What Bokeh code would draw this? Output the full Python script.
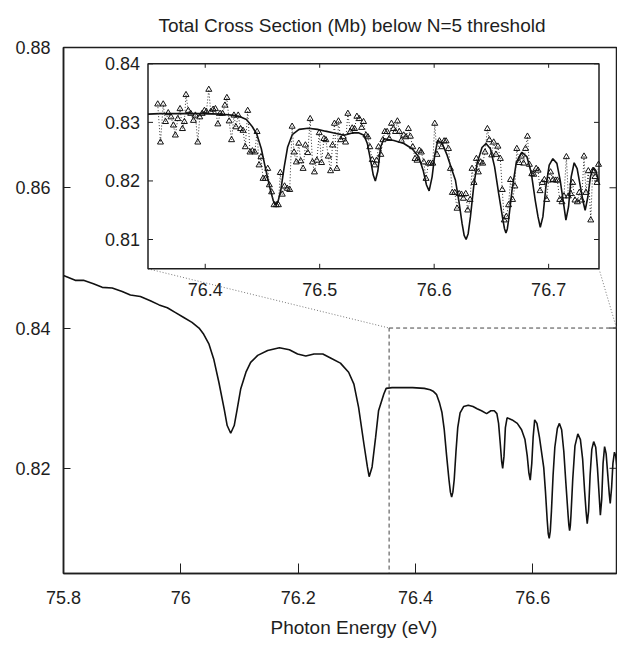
import numpy as np
from bokeh.plotting import figure
from bokeh.models import Range1d, FixedTicker, Title
from bokeh.core.properties import value
from bokeh.embed import file_html
from bokeh.resources import INLINE

# ---------------- data ----------------
TITLE = "Total Cross Section (Mb) below N=5 threshold"
X_LABEL = "Photon Energy (eV)"

MAIN_X_RANGE = (75.8, 76.7426)
MAIN_Y_RANGE = (0.805, 0.88)
MAIN_X_TICKS = [75.8, 76.0, 76.2, 76.4, 76.6]
MAIN_X_TICK_LABELS = ["75.8", "76", "76.2", "76.4", "76.6"]
MAIN_Y_TICKS = [0.82, 0.84, 0.86, 0.88]
MAIN_Y_TICK_LABELS = ["0.82", "0.84", "0.86", "0.88"]

ZOOM_BOX_X = (76.355, 76.745)
ZOOM_BOX_Y = (0.805, 0.84)

INSET_X_RANGE = (76.35, 76.744)
INSET_Y_RANGE = (0.805, 0.84)
INSET_X_TICKS = [76.4, 76.5, 76.6, 76.7]
INSET_X_TICK_LABELS = ["76.4", "76.5", "76.6", "76.7"]
INSET_Y_TICKS = [0.81, 0.82, 0.83, 0.84]
INSET_Y_TICK_LABELS = ["0.81", "0.82", "0.83", "0.84"]

# theoretical total cross section (solid curve)
theory_energy = [
    75.800, 75.820, 75.834, 75.851, 75.866, 75.883, 75.900, 75.914, 75.931, 75.948,
    75.963, 75.977, 75.991, 76.005, 76.019, 76.031, 76.039, 76.048, 76.056, 76.065,
    76.074, 76.079, 76.085, 76.091, 76.096, 76.102, 76.111, 76.119, 76.131, 76.148,
    76.168, 76.185, 76.199, 76.213, 76.227, 76.242, 76.256, 76.272, 76.286, 76.295,
    76.303, 76.312, 76.318, 76.321, 76.326, 76.332, 76.337, 76.346,
    76.350, 76.360, 76.375, 76.395, 76.415, 76.425, 76.430, 76.436, 76.441, 76.445,
    76.449, 76.453, 76.457, 76.4595, 76.4616, 76.4637, 76.466, 76.469, 76.472, 76.476,
    76.482, 76.490, 76.498, 76.505, 76.5125, 76.5212, 76.5285, 76.5343, 76.5387, 76.5416,
    76.5445, 76.5468, 76.5486, 76.5508, 76.5532, 76.5561, 76.5648, 76.5735, 76.5808, 76.5866,
    76.5904, 76.5933, 76.5956, 76.5982, 76.6005, 76.6031, 76.6070, 76.6113, 76.6157, 76.6186,
    76.6215, 76.6244, 76.6262, 76.6279, 76.6297, 76.6317, 76.6345, 76.6375, 76.6418, 76.6453,
    76.6491, 76.6528, 76.6563, 76.6601, 76.6614, 76.6627, 76.6639, 76.6650, 76.6680, 76.6718,
    76.6767, 76.6811, 76.6849, 76.6883, 76.6907, 76.6927, 76.6950, 76.6976, 76.7005, 76.7037,
    76.7072, 76.7101, 76.7130, 76.7151, 76.7174, 76.7197, 76.7223, 76.7249, 76.7278, 76.7302,
    76.7319, 76.7343, 76.7365, 76.7391, 76.7412, 76.7435,
]
theory_sigma = [
    0.8475, 0.8468, 0.8468, 0.8463, 0.8458, 0.8457, 0.8452, 0.8447, 0.8445, 0.8439,
    0.8433, 0.8429, 0.8422, 0.8415, 0.8408, 0.8400, 0.8391, 0.8377, 0.8356, 0.8322,
    0.8284, 0.8261, 0.8250, 0.8261, 0.8284, 0.8313, 0.8337, 0.8351, 0.8361, 0.8368,
    0.8372, 0.8369, 0.8363, 0.8360, 0.8363, 0.8363, 0.8357, 0.8350, 0.8337, 0.8320,
    0.8287, 0.8235, 0.8202, 0.8188, 0.8202, 0.8244, 0.8282, 0.8306,
    0.8314, 0.8315, 0.8315, 0.8315, 0.8314, 0.8312, 0.8310, 0.8305, 0.8293, 0.8280,
    0.8255, 0.8218, 0.8184, 0.8166, 0.8159, 0.8166, 0.8184, 0.8224, 0.8258, 0.8279,
    0.8288, 0.8290, 0.8288, 0.8285, 0.8282, 0.8278, 0.8282, 0.8282, 0.8278, 0.8264,
    0.8235, 0.8210, 0.8200, 0.8217, 0.8258, 0.8272, 0.8269, 0.8264, 0.8255, 0.8241,
    0.8218, 0.8193, 0.8183, 0.8207, 0.8244, 0.8269, 0.8264, 0.8244, 0.8218, 0.8201,
    0.8167, 0.8127, 0.8107, 0.8100, 0.8110, 0.8139, 0.8190, 0.8230, 0.8257, 0.8264,
    0.8255, 0.8224, 0.8179, 0.8133, 0.8119, 0.8111, 0.8118, 0.8133, 0.8184, 0.8232,
    0.8249, 0.8241, 0.8213, 0.8167, 0.8139, 0.8121, 0.8139, 0.8190, 0.8227, 0.8238,
    0.8230, 0.8201, 0.8162, 0.8133, 0.8156, 0.8207, 0.8231, 0.8221, 0.8190, 0.8164,
    0.8150, 0.8173, 0.8207, 0.8223, 0.8218, 0.8201,
]

# experimental points (triangles, dotted)
exp_energy = [
    76.3585, 76.3609, 76.3633, 76.3653, 76.3677, 76.3701, 76.3722, 76.3739, 76.3760, 76.3780,
    76.3801, 76.3818, 76.3832, 76.3852, 76.3873, 76.3897, 76.3914, 76.3935, 76.3952, 76.3973,
    76.3993, 76.4010, 76.4031, 76.4048, 76.4069, 76.4089, 76.4110, 76.4130, 76.4151, 76.4172,
    76.4189, 76.4209, 76.4230, 76.4251, 76.4268, 76.4288, 76.4309, 76.4330, 76.4350, 76.4371,
    76.4391, 76.4412, 76.4433, 76.4453, 76.4470, 76.4487, 76.4505, 76.4525, 76.4546, 76.4560,
    76.4580, 76.4601, 76.4621, 76.4639, 76.4656, 76.4673, 76.4693, 76.4717, 76.4738, 76.4759,
    76.4776, 76.4796, 76.4817, 76.4834, 76.4855, 76.4875, 76.4896, 76.4917, 76.4937, 76.4954,
    76.4975, 76.4996, 76.5016, 76.5037, 76.5054, 76.5075, 76.5095, 76.5112, 76.5129, 76.5150,
    76.5164, 76.5184, 76.5205, 76.5226, 76.5246, 76.5267, 76.5284, 76.5304, 76.5325, 76.5346,
    76.5366, 76.5383, 76.5404, 76.5421, 76.5438, 76.5459, 76.5480, 76.5497, 76.5514, 76.5534,
    76.5552, 76.5569, 76.5589, 76.5607, 76.5627, 76.5644, 76.5662, 76.5679, 76.5696, 76.5713,
    76.5734, 76.5754, 76.5775, 76.5792, 76.5813, 76.5833, 76.5850, 76.5871, 76.5888, 76.5909,
    76.5929, 76.5950, 76.5967, 76.5988, 76.6005, 76.6025, 76.6046, 76.6067, 76.6087, 76.6104,
    76.6125, 76.6142, 76.6159, 76.6180, 76.6200, 76.6218, 76.6238, 76.6255, 76.6276, 76.6293,
    76.6314, 76.6331, 76.6348, 76.6369, 76.6386, 76.6406, 76.6424, 76.6444, 76.6465, 76.6482,
    76.6503, 76.6520, 76.6540, 76.6557, 76.6578, 76.6595, 76.6612, 76.6630, 76.6650, 76.6667,
    76.6685, 76.6705, 76.6722, 76.6743, 76.6760, 76.6781, 76.6798, 76.6815, 76.6832, 76.6853,
    76.6870, 76.6891, 76.6908, 76.6925, 76.6945, 76.6963, 76.6983, 76.7000, 76.7017, 76.7038,
    76.7059, 76.7076, 76.7097, 76.7117, 76.7134, 76.7155, 76.7172, 76.7193, 76.7210, 76.7230,
    76.7251, 76.7268, 76.7289, 76.7309, 76.7326, 76.7347, 76.7368, 76.7385, 76.7405, 76.7423,
    76.7436,
]
exp_sigma = [
    0.8331, 0.8266, 0.8331, 0.8301, 0.8316, 0.8309, 0.8295, 0.8278, 0.8306, 0.8323,
    0.8289, 0.8301, 0.8347, 0.8320, 0.8315, 0.8303, 0.8312, 0.8266, 0.8309, 0.8315,
    0.8320, 0.8318, 0.8356, 0.8318, 0.8322, 0.8323, 0.8297, 0.8315, 0.8315, 0.8329,
    0.8342, 0.8302, 0.8270, 0.8312, 0.8292, 0.8312, 0.8289, 0.8286, 0.8258, 0.8320,
    0.8249, 0.8251, 0.8249, 0.8284, 0.8227, 0.8241, 0.8204, 0.8204, 0.8221, 0.8193,
    0.8181, 0.8159, 0.8159, 0.8159, 0.8214, 0.8177, 0.8191, 0.8187, 0.8185, 0.8293,
    0.8249, 0.8232, 0.8264, 0.8234, 0.8221, 0.8261, 0.8248, 0.8306, 0.8232, 0.8215,
    0.8235, 0.8282, 0.8231, 0.8272, 0.8270, 0.8242, 0.8217, 0.8261, 0.8298, 0.8221,
    0.8302, 0.8270, 0.8275, 0.8266, 0.8315, 0.8284, 0.8290, 0.8289, 0.8310, 0.8306,
    0.8291, 0.8301, 0.8278, 0.8275, 0.8258, 0.8236, 0.8227, 0.8235, 0.8258, 0.8245,
    0.8270, 0.8284, 0.8284, 0.8272, 0.8298, 0.8289, 0.8284, 0.8302, 0.8284, 0.8269,
    0.8278, 0.8275, 0.8289, 0.8276, 0.8258, 0.8238, 0.8235, 0.8252, 0.8249, 0.8232,
    0.8204, 0.8230, 0.8230, 0.8230, 0.8298, 0.8245, 0.8268, 0.8258, 0.8268, 0.8268,
    0.8255, 0.8221, 0.8180, 0.8180, 0.8153, 0.8178, 0.8177, 0.8170, 0.8178, 0.8150,
    0.8168, 0.8221, 0.8197, 0.8238, 0.8215, 0.8232, 0.8230, 0.8249, 0.8289, 0.8270,
    0.8244, 0.8266, 0.8245, 0.8259, 0.8238, 0.8185, 0.8133, 0.8139, 0.8159, 0.8202,
    0.8168, 0.8191, 0.8255, 0.8231, 0.8242, 0.8230, 0.8255, 0.8276, 0.8228, 0.8212,
    0.8211, 0.8221, 0.8218, 0.8183, 0.8197, 0.8202, 0.8168, 0.8201, 0.8215, 0.8202,
    0.8201, 0.8201, 0.8168, 0.8164, 0.8174, 0.8241, 0.8174, 0.8178, 0.8197, 0.8167,
    0.8164, 0.8180, 0.8167, 0.8242, 0.8180, 0.8217, 0.8133, 0.8217, 0.8207, 0.8197,
    0.8228,
]

# ---------------- layout (pixels) ----------------
W, H = 617, 646
FL, FR, FT, FB = 63, 616, 47, 573          # main frame edges
IL, IR, IT, IB = 147.5, 598.5, 63.3, 268.3 # inset frame edges
TITLE_OFFSET = 95     # left edge of title text relative to frame left
XLAB_OFFSET = 207     # left edge of x-label text relative to frame left
FONT = "Liberation Sans"
FS = "18px"
FS_TITLE = "19px"
INK = "#1e1e1e"

mx = (MAIN_X_RANGE[1] - MAIN_X_RANGE[0]) / (FR - FL)
my = (MAIN_Y_RANGE[1] - MAIN_Y_RANGE[0]) / (FB - FT)


def main_x(px):
    return MAIN_X_RANGE[0] + (px - FL) * mx


def main_y(py):
    return MAIN_Y_RANGE[1] - (py - FT) * my


isx = (INSET_X_RANGE[1] - INSET_X_RANGE[0]) / (IR - IL)
isy = (INSET_Y_RANGE[1] - INSET_Y_RANGE[0]) / (IB - IT)
inset_xr = Range1d(INSET_X_RANGE[0] - (IL - FL) * isx, INSET_X_RANGE[1] + (FR - IR) * isx)
inset_yr = Range1d(INSET_Y_RANGE[0] - (FB - IB) * isy, INSET_Y_RANGE[1] + (IT - FT) * isy)

p = figure(width=W, height=H,
           x_range=Range1d(*MAIN_X_RANGE), y_range=Range1d(*MAIN_Y_RANGE),
           output_backend="svg", toolbar_location=None,
           min_border_left=FL, min_border_right=W - FR,
           min_border_top=FT, min_border_bottom=H - FB,
           background_fill_color="white", border_fill_color="white")
p.extra_x_ranges = {"ix": inset_xr}
p.extra_y_ranges = {"iy": inset_yr}
p.grid.visible = False
p.outline_line_color = INK
p.outline_line_width = 1.5

p.title = Title(text=TITLE, align="left", offset=TITLE_OFFSET, standoff=24,
                text_font=FONT, text_font_size=FS_TITLE, text_font_style="normal",
                text_color=INK)

p.xaxis.ticker = FixedTicker(ticks=MAIN_X_TICKS)
p.xaxis.major_label_overrides = dict(zip(MAIN_X_TICKS, MAIN_X_TICK_LABELS))
p.yaxis.ticker = FixedTicker(ticks=MAIN_Y_TICKS)
p.yaxis.major_label_overrides = dict(zip(MAIN_Y_TICKS, MAIN_Y_TICK_LABELS))
for ax in (p.xaxis[0], p.yaxis[0]):
    ax.major_tick_out = 0
    ax.minor_tick_in = 0
    ax.minor_tick_out = 0
    ax.axis_line_color = INK
    ax.axis_line_width = 1.5
    ax.major_tick_line_color = INK
    ax.major_tick_line_width = 1
    ax.major_label_text_font = FONT
    ax.major_label_text_font_size = FS
    ax.major_label_text_color = INK
p.xaxis.major_tick_in = 10
p.xaxis.major_label_standoff = 17
p.yaxis.major_tick_in = 7
p.yaxis.major_label_standoff = 13

p.add_layout(Title(text=X_LABEL, align="left", offset=XLAB_OFFSET, standoff=17,
                   text_font=FONT, text_font_size=FS_TITLE, text_font_style="normal",
                   text_color=INK), "below")

# right mirror ticks of the main frame
p.segment(x0=[MAIN_X_RANGE[1] - 7 * mx] * len(MAIN_Y_TICKS), y0=MAIN_Y_TICKS,
          x1=[MAIN_X_RANGE[1]] * len(MAIN_Y_TICKS), y1=MAIN_Y_TICKS,
          line_color=INK, line_width=1)

# main curve
p.line(theory_energy, theory_sigma, line_color="#111111", line_width=1.6)

# dashed zoom box
p.quad(left=[ZOOM_BOX_X[0]], right=[ZOOM_BOX_X[1]], bottom=[ZOOM_BOX_Y[0]], top=[ZOOM_BOX_Y[1]],
       fill_color=None, line_color="#444444", line_width=1, line_dash="4 3")

# dotted connectors from inset corners to zoom box
p.segment(x0=[main_x(IL), main_x(IR)], y0=[main_y(IB), main_y(IB)],
          x1=[ZOOM_BOX_X[0], MAIN_X_RANGE[1]], y1=[ZOOM_BOX_Y[1], ZOOM_BOX_Y[1]],
          line_color="#777777", line_width=1, line_dash="1 2")

# ---------------- inset ----------------
R = dict(x_range_name="ix", y_range_name="iy")
p.quad(left=[INSET_X_RANGE[0]], right=[INSET_X_RANGE[1]],
       bottom=[INSET_Y_RANGE[0]], top=[INSET_Y_RANGE[1]],
       fill_color="white", line_color=INK, line_width=1.5, **R)

te = np.array(theory_energy)
ts = np.array(theory_sigma)
m = (te >= INSET_X_RANGE[0]) & (te <= INSET_X_RANGE[1])
p.line(te[m], ts[m], line_color="#111111", line_width=1.6, **R)

p.line(exp_energy, exp_sigma, line_color="#333333", line_width=1, line_dash="1 2", **R)
p.scatter(exp_energy, exp_sigma, marker="triangle", size=6, fill_color=None,
          line_color="#111111", line_width=1, **R)

# inset ticks
nx, ny = len(INSET_X_TICKS), len(INSET_Y_TICKS)
p.segment(x0=INSET_X_TICKS, y0=[INSET_Y_RANGE[0]] * nx,
          x1=INSET_X_TICKS, y1=[INSET_Y_RANGE[0] + 5 * isy] * nx,
          line_color=INK, line_width=1, **R)
p.segment(x0=INSET_X_TICKS, y0=[INSET_Y_RANGE[1]] * nx,
          x1=INSET_X_TICKS, y1=[INSET_Y_RANGE[1] - 4 * isy] * nx,
          line_color=INK, line_width=1, **R)
p.segment(x0=[INSET_X_RANGE[0]] * ny, y0=INSET_Y_TICKS,
          x1=[INSET_X_RANGE[0] + 5 * isx] * ny, y1=INSET_Y_TICKS,
          line_color=INK, line_width=1, **R)
p.segment(x0=[INSET_X_RANGE[1]] * ny, y0=INSET_Y_TICKS,
          x1=[INSET_X_RANGE[1] - 5 * isx] * ny, y1=INSET_Y_TICKS,
          line_color=INK, line_width=1, **R)

# inset tick labels
p.text(x=INSET_X_TICKS, y=[INSET_Y_RANGE[0]] * nx, text=INSET_X_TICK_LABELS,
       text_font=value(FONT), text_font_size=value(FS), text_color=INK,
       text_align="center", text_baseline="middle", y_offset=21, **R)
p.text(x=[INSET_X_RANGE[0]] * ny, y=INSET_Y_TICKS, text=INSET_Y_TICK_LABELS,
       text_font=value(FONT), text_font_size=value(FS), text_color=INK,
       text_align="right", text_baseline="middle", x_offset=-8, **R)

open("out.html", "w").write(file_html(p, INLINE))
